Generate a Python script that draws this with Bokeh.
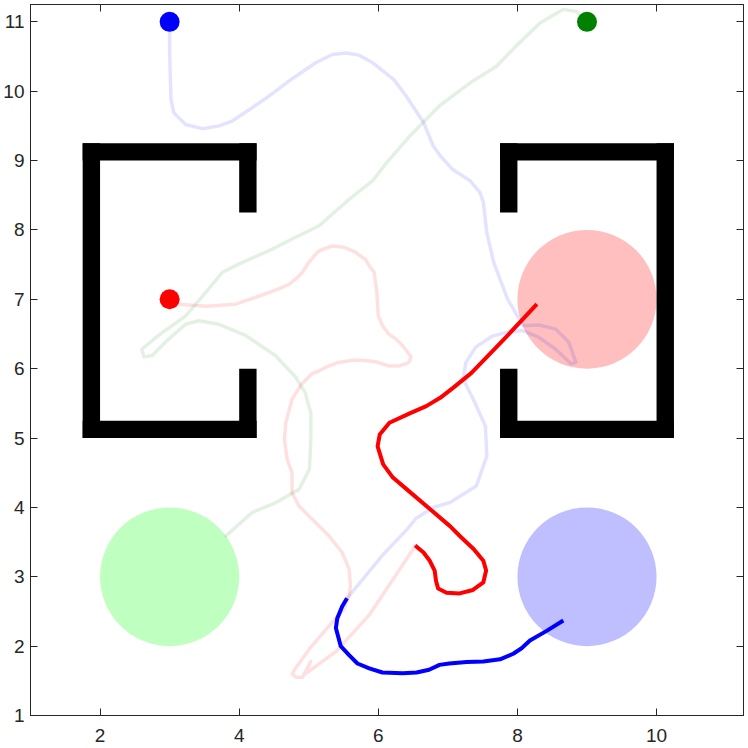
from bokeh.plotting import figure
from bokeh.models import Range1d, LinearAxis, FixedTicker
from bokeh.embed import file_html
from bokeh.resources import INLINE

# ---------------- data ----------------
x_ticks = [2, 4, 6, 8, 10]
y_ticks = [1, 2, 3, 4, 5, 6, 7, 8, 9, 10, 11]

# walls (two brackets)
wall_left = [1.75, 1.75, 1.75, 4.0, 4.0, 10.0, 7.75, 7.75, 7.75, 7.75]
wall_right = [2.0, 4.25, 4.25, 4.25, 4.25, 10.25, 10.25, 10.25, 8.0, 8.0]
wall_bottom = [5.0, 9.0, 5.0, 8.25, 5.0, 5.0, 9.0, 5.0, 8.25, 5.0]
wall_top = [9.25, 9.25, 5.25, 9.25, 6.0, 9.25, 9.25, 5.25, 9.25, 6.0]

# goal regions
goal_x = [3, 9, 9]
goal_y = [3, 3, 7]
goal_colors = ["#bfffbf", "#bfbfff", "#ffbfbf"]

# start points
start_x = [3, 3, 9]
start_y = [11, 7, 11]
start_colors = ["#0000ff", "#ff0000", "#008000"]

# blue trajectory (faint history)
blue_hist_x = [3.0, 3.0, 3.01, 3.02, 3.06, 3.23, 3.47, 3.71, 3.90, 4.36, 4.72, 5.10, 5.34, 5.54,
               5.72, 5.92, 6.22, 6.40, 6.65, 6.79, 6.89, 7.07, 7.32, 7.46, 7.51, 7.56, 7.66, 7.86,
               8.03, 8.08, 8.31, 8.55, 8.74, 8.84, 8.77, 8.55, 8.31, 8.08, 7.83, 7.64, 7.40, 7.26,
               7.22, 7.37, 7.54, 7.56, 7.41, 7.03, 6.79, 6.54, 6.41, 6.06, 5.93, 5.55]
blue_hist_y = [11.0, 10.58, 10.2, 9.88, 9.69, 9.52, 9.46, 9.50, 9.57, 9.88, 10.15, 10.41, 10.53, 10.55,
               10.52, 10.41, 10.17, 9.93, 9.55, 9.21, 9.07, 8.87, 8.71, 8.54, 8.40, 7.96, 7.53, 7.00,
               6.71, 6.62, 6.63, 6.57, 6.38, 6.09, 6.07, 6.28, 6.45, 6.55, 6.52, 6.47, 6.31, 6.09,
               5.85, 5.55, 5.17, 4.74, 4.31, 4.07, 4.00, 3.84, 3.68, 3.31, 3.15, 2.69]
# blue trajectory (recent)
blue_now_x = [5.55, 5.48, 5.41, 5.39, 5.46, 5.58, 5.70, 5.87, 6.06, 6.35, 6.55, 6.73, 6.88, 7.02,
              7.27, 7.51, 7.75, 7.94, 8.06, 8.18, 8.42, 8.66]
blue_now_y = [2.69, 2.57, 2.40, 2.26, 2.00, 1.87, 1.75, 1.68, 1.62, 1.61, 1.62, 1.66, 1.73, 1.75,
              1.77, 1.78, 1.81, 1.89, 1.97, 2.08, 2.22, 2.37]

# red trajectory (faint history)
red_hist_x = [3.0, 3.13, 3.52, 3.95, 4.38, 4.57, 4.72, 4.81, 4.91, 5.00, 5.10, 5.15, 5.34, 5.51,
              5.67, 5.82, 5.87, 5.94, 5.96, 5.98, 5.99, 6.00, 6.06, 6.15, 6.25, 6.35, 6.42, 6.47,
              6.44, 6.39, 6.30, 6.15, 5.96, 5.77, 5.63, 5.43, 5.29, 5.15, 5.05, 4.90, 4.76, 4.67,
              4.65, 4.69, 4.76, 4.76, 4.86, 5.05, 5.29, 5.48, 5.58, 5.60, 5.58, 5.50, 5.29, 5.01,
              4.81, 4.76, 4.82, 4.91, 5.03, 4.95, 5.39, 5.87, 6.25, 6.51, 6.53]
red_hist_y = [7.0, 6.93, 6.90, 6.93, 7.08, 7.15, 7.22, 7.29, 7.39, 7.53, 7.65, 7.70, 7.77, 7.75,
              7.68, 7.57, 7.48, 7.39, 7.24, 7.10, 6.91, 6.76, 6.62, 6.50, 6.43, 6.33, 6.24, 6.17,
              6.09, 6.07, 6.04, 6.04, 6.10, 6.12, 6.12, 6.09, 6.04, 5.97, 5.93, 5.78, 5.56, 5.22,
              4.98, 4.69, 4.50, 4.21, 4.02, 3.83, 3.59, 3.35, 3.11, 2.87, 2.73, 2.52, 2.29, 1.96,
              1.68, 1.60, 1.55, 1.55, 1.78, 1.60, 1.92, 2.45, 3.02, 3.41, 3.45]
# red trajectory (recent)
red_now_x = [6.53, 6.65, 6.74, 6.81, 6.83, 6.86, 6.98, 7.17, 7.36, 7.51, 7.55, 7.51, 7.37, 7.19,
             7.03, 6.75, 6.41, 6.21, 6.07, 5.99, 6.02, 6.16, 6.46, 6.69, 6.89, 7.07, 7.34, 7.85,
             8.28]
red_now_y = [3.45, 3.35, 3.23, 3.09, 2.94, 2.83, 2.77, 2.76, 2.81, 2.92, 3.09, 3.23, 3.40, 3.57,
             3.73, 3.97, 4.26, 4.43, 4.62, 4.88, 5.05, 5.22, 5.36, 5.46, 5.58, 5.72, 5.94, 6.47,
             6.93]

# green trajectory (faint history)
green_hist_x = [9.0, 8.85, 8.66, 8.32, 7.98, 7.70, 7.32, 6.88, 6.45, 6.12, 5.92, 5.58, 5.15, 4.76,
                4.47, 4.00, 3.76, 3.52, 3.23, 2.84, 2.60, 2.63, 2.75, 2.99, 3.23, 3.42, 3.71, 4.09,
                4.52, 4.81, 4.95, 5.03, 5.03, 5.01, 4.86, 4.53, 4.19, 3.81]
green_hist_y = [11.0, 11.15, 11.18, 10.98, 10.65, 10.36, 10.12, 9.79, 9.35, 8.97, 8.71, 8.44, 8.06, 7.87,
                7.72, 7.51, 7.39, 7.10, 6.76, 6.48, 6.28, 6.17, 6.19, 6.43, 6.64, 6.69, 6.64, 6.48,
                6.19, 5.88, 5.65, 5.36, 4.98, 4.55, 4.26, 4.07, 3.93, 3.59]

# ---------------- figure ----------------
axis_color = "#262626"
font = "Liberation Sans"

p = figure(frame_width=713, frame_height=711,
           x_range=Range1d(1, 11.25), y_range=Range1d(1, 11.25),
           output_backend="svg", toolbar_location=None,
           min_border_left=27, min_border_right=3, min_border_top=4, min_border_bottom=33)
p.background_fill_color = "white"
p.border_fill_color = "white"
p.outline_line_color = axis_color
p.outline_line_width = 1
p.xgrid.visible = False
p.ygrid.visible = False

p.add_layout(LinearAxis(), "above")
p.add_layout(LinearAxis(), "right")

for ax in p.xaxis:
    ax.ticker = FixedTicker(ticks=x_ticks)
for ax in p.yaxis:
    ax.ticker = FixedTicker(ticks=y_ticks)

for ax in p.axis:
    ax.axis_line_color = axis_color
    ax.major_tick_line_color = axis_color
    ax.major_tick_in = 7
    ax.major_tick_out = 0
    ax.minor_tick_line_color = None
    ax.major_label_text_color = axis_color
    ax.major_label_text_font = font
    ax.major_label_text_font_size = "19px"

p.below[0].major_label_standoff = 13
p.left[0].major_label_standoff = 6
p.above[0].major_label_overrides = {t: "" for t in x_ticks}
p.right[0].major_label_overrides = {t: "" for t in y_ticks}
for ax in (p.above[0], p.right[0]):
    ax.major_label_text_font_size = "1px"
    ax.major_label_standoff = 0

# goal regions
p.ellipse(x=goal_x, y=goal_y, width=2, height=2, fill_color=goal_colors, line_color=None)

# trajectories (faint history)
p.line(blue_hist_x, blue_hist_y, line_color="#0000ff", line_alpha=0.11, line_width=3.5,
       line_join="round", line_cap="round")
p.line(red_hist_x, red_hist_y, line_color="#ff0000", line_alpha=0.12, line_width=3.5,
       line_join="round", line_cap="round")
p.line(green_hist_x, green_hist_y, line_color="#008000", line_alpha=0.11, line_width=3.5,
       line_join="round", line_cap="round")

# recent segments
p.line(blue_now_x, blue_now_y, line_color="#0000ff", line_width=4, line_join="round")
p.line(red_now_x, red_now_y, line_color="#ff0000", line_width=4, line_join="round")

# walls
p.quad(left=wall_left, right=wall_right, bottom=wall_bottom, top=wall_top,
       fill_color="black", line_color=None)

# start points
p.scatter(start_x, start_y, size=20, fill_color=start_colors, line_color=None)

open("out.html", "w").write(file_html(p, INLINE))
